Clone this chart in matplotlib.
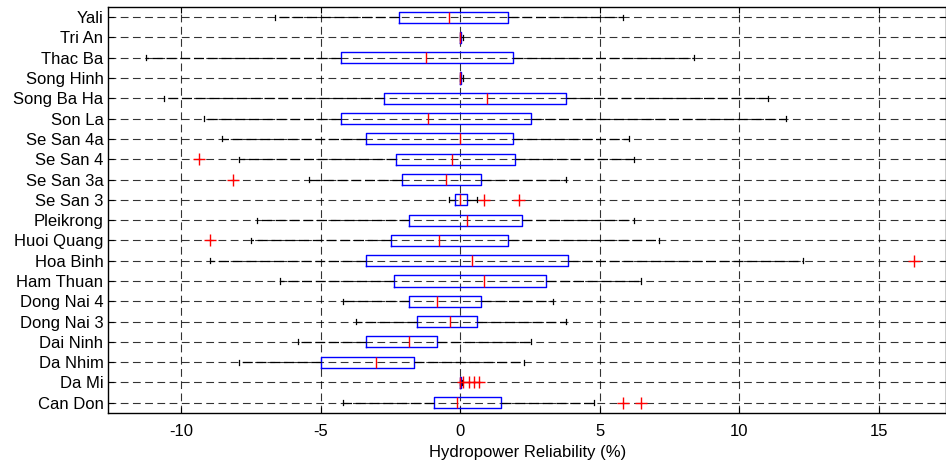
import matplotlib.pyplot as plt

plt.rcParams['font.family'] = ['Liberation Sans', 'DejaVu Sans']
plt.rcParams['axes.unicode_minus'] = False

# hydropower plants, listed top to bottom
plants = ['Yali', 'Tri An', 'Thac Ba', 'Song Hinh', 'Song Ba Ha', 'Son La',
          'Se San 4a', 'Se San 4', 'Se San 3a', 'Se San 3', 'Pleikrong',
          'Huoi Quang', 'Hoa Binh', 'Ham Thuan', 'Dong Nai 4', 'Dong Nai 3',
          'Dai Ninh', 'Da Nhim', 'Da Mi', 'Can Don']

# box statistics (%)
whisk_lo = [-6.63, -0.02, -11.25, -0.02, -10.6, -9.16, -8.52, -7.91, -5.40, -0.39,
            -7.26, -7.5, -8.96, -6.45, -4.18, -3.73, -5.80, -7.91, -0.02, -4.18]
q1 = [-2.19, 0.0, -4.28, 0.0, -2.71, -4.28, -3.36, -2.28, -2.09, -0.19,
      -1.84, -2.48, -3.36, -2.37, -1.84, -1.55, -3.36, -4.98, 0.0, -0.92]
median = [-0.39, 0.0, -1.22, 0.0, 0.96, -1.14, 0.0, -0.30, -0.50, 0.0,
          0.24, -0.74, 0.43, 0.87, -0.84, -0.38, -1.84, -3.01, 0.0, -0.10]
q3 = [1.70, 0.02, 1.88, 0.02, 3.79, 2.52, 1.88, 1.97, 0.73, 0.25,
      2.22, 1.70, 3.88, 3.06, 0.73, 0.62, -0.82, -1.65, 0.02, 1.45]
whisk_hi = [5.85, 0.12, 8.36, 0.12, 11.03, 11.68, 6.06, 6.24, 3.79, 0.62,
            6.21, 7.12, 12.27, 6.49, 3.33, 3.79, 2.52, 2.29, 0.08, 4.79]
outliers = [[], [], [], [], [], [], [], [-9.35], [-8.14], [0.86, 2.09],
            [], [-8.96], [16.25], [], [], [], [], [], [0.12, 0.30, 0.48, 0.66], [5.85, 6.49]]

n = len(plants)
stats = []
for i in range(n):
    stats.append({'label': plants[i], 'whislo': whisk_lo[i], 'q1': q1[i], 'med': median[i],
                  'q3': q3[i], 'whishi': whisk_hi[i], 'fliers': outliers[i]})

fig = plt.figure(figsize=(9.46, 4.65), dpi=100)
ax = fig.add_axes([0.1145, 0.112, 0.8855, 0.873])

positions = [n - i for i in range(n)]
ax.bxp(stats, positions=positions, orientation='horizontal', widths=0.55,
       boxprops=dict(color='blue', linewidth=1.0),
       medianprops=dict(color='red', linewidth=1.0),
       whiskerprops=dict(color='black', linestyle=(0, (8, 3)), linewidth=0.9),
       capprops=dict(color='black', linewidth=0.9),
       capwidths=0.25,
       flierprops=dict(marker='+', markeredgecolor='red', markersize=9, linestyle='none'))

ax.set_xlim(-12.6, 17.4)
ax.set_ylim(0.5, n + 0.5)
ax.set_xticks([-10, -5, 0, 5, 10, 15])
ax.set_yticks(positions)
ax.set_yticklabels(plants)
ax.grid(True, color='black', linestyle=(0, (7, 4)), linewidth=0.8, alpha=0.8)
ax.set_axisbelow(True)
ax.tick_params(direction='in', top=True, right=True, labelsize=12, length=4, colors='black')
ax.tick_params(axis='x', pad=8)
ax.set_xlabel('Hydropower Reliability (%)', fontsize=12, labelpad=4)
for s in ax.spines.values():
    s.set_linewidth(1.0)

fig.savefig('out.png', dpi=100)
